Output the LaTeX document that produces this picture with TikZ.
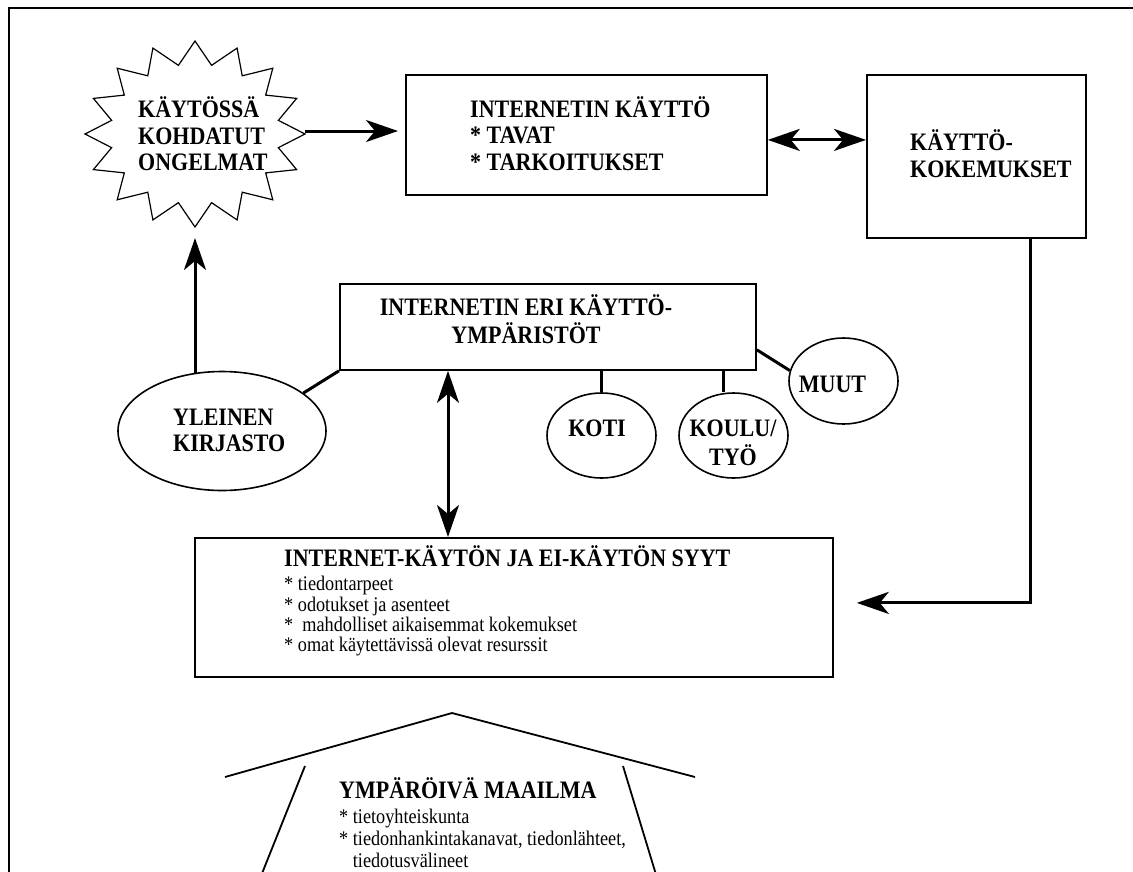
\documentclass[tikz,border=0pt]{standalone}
\usepackage{fontspec}
\setmainfont{Liberation Serif}[FakeStretch=0.877]
\usetikzlibrary{arrows.meta,shapes.geometric}
\newcommand\mytab[2][l]{\begin{tabular}[t]{@{}#1@{}}#2\end{tabular}}
\newcommand\myB{\fontsize{25.1}{26.5}\selectfont\bfseries}
\newcommand\myS{\fontsize{20.8}{20.2}\selectfont}
\newcommand\myH{\fontsize{20.8}{22}\selectfont}
\begin{document}
\begin{tikzpicture}[x=1pt,y=-1pt,
  box/.style={draw, line width=1.8pt, rectangle, inner sep=0pt, anchor=north west},
  ell/.style={draw, line width=1.6pt, ellipse, inner sep=0pt},
  txt/.style={anchor=base west, inner sep=0pt, font=\myB},
  conn/.style={line width=3pt},
  arr/.style={line width=3pt, -{Stealth[length=32pt, width=22pt, inset=9pt]}},
  dbl/.style={line width=3pt, {Stealth[length=32pt, width=22pt, inset=9pt]}-{Stealth[length=32pt, width=22pt, inset=9pt]}},
  house/.style={line width=1.8pt}]
\useasboundingbox (0,0) rectangle (1133,871);
\clip (0,0) rectangle (1133,871);
\fill[white] (0,0) rectangle (1133,871);
% frame
\draw[line width=1.6pt] (9,890) -- (9,8) -- (1145,8);

% starburst
\draw[line width=1.2pt] (305,134)
  \foreach \i in {1,...,31}{ -- ({195+ifthenelse(mod(\i,2)==0,110,85)*cos(\i*11.25)},{134-ifthenelse(mod(\i,2)==0,93,70)*sin(\i*11.25)}) } -- cycle;
\coordinate (burstE) at (305,131);
\coordinate (burstS) at (195,227);
\node[txt] (bt) at (138,117.5) {\mytab{KÄYTÖSSÄ\\KOHDATUT\\ONGELMAT}};

% boxes
\node[box, minimum width=361pt, minimum height=120pt] (b1) at (405,74) {};
\node[box, minimum width=219pt, minimum height=163pt] (kok) at (866,74) {};
\node[box, minimum width=416pt, minimum height=86pt] (env) at (339,283) {};
\node[box, minimum width=638pt, minimum height=139pt] (syyt) at (194,537) {};

\node[txt] (b1t) at (470,117.3) {\mytab{INTERNETIN KÄYTTÖ\\{*} TAVAT\\{*} TARKOITUKSET}};
\node[txt] (kokt) at (910,150.5) {\mytab{KÄYTTÖ-\\KOKEMUKSET}};
\node[txt, anchor=base] (envt) at (526,315) {\mytab[c]{INTERNETIN ERI KÄYTTÖ-\\YMPÄRISTÖT}};
\node[txt] (syytt) at (284,566.5) {INTERNET-KÄYTÖN JA EI-KÄYTÖN SYYT};
\node[txt, font=\myS] (syytl) at (284,590.5) {\mytab{* tiedontarpeet\\{*} odotukset ja asenteet\\{*}\ \ mahdolliset aikaisemmat kokemukset\\{*} omat käytettävissä olevat resurssit}};

% ellipses
\node[ell, minimum width=208pt, minimum height=119pt] (yk) at (222,431) {};
\node[ell, minimum width=109pt, minimum height=85pt] (koti) at (601.5,435.5) {};
\node[ell, minimum width=109pt, minimum height=85pt] (koulu) at (733.5,435.5) {};
\node[ell, minimum width=109pt, minimum height=86pt] (muut) at (843.5,381) {};

\node[txt] (ykt) at (173,425) {\mytab{YLEINEN\\KIRJASTO}};
\node[txt, anchor=base] (kotit) at (597,436) {KOTI};
\node[txt, anchor=base] (koulut) at (733,436.5) {\mytab[c]{KOULU/\\TYÖ}};
\node[txt, anchor=base] (muutt) at (832.5,392.3) {MUUT};

% connectors
\draw[conn] (yk.25) -- (env.south west);
\draw[conn] (koti.north |- env.south) -- (koti.north);
\coordinate (kl) at ([xshift=-10.5pt]koulu.north);
\draw[conn] (kl |- env.south) -- (kl);
\draw[conn] ([yshift=21pt]env.south east) -- (muut.169);

\draw[arr, shorten >=11pt] ([yshift=-3pt]yk.north -| burstS) -- (burstS);
\draw[arr, shorten >=7pt] (burstE) -- (burstE -| b1.west);
\draw[dbl] ([yshift=-5pt]b1.east) -- ([yshift=-5pt]b1.east -| kok.west);
\draw[dbl] ([xshift=109pt]env.south west) -- ([xshift=109pt]env.south west |- syyt.north);
\draw[arr] ([xshift=54.5pt]kok.south) |- ([xshift=23pt,yshift=4.5pt]syyt.east);

% surrounding world (house shape)
\draw[house] (225,777) -- (452,713) -- (695,777);
\draw[house] (305,766) -- (255,891);
\draw[house] (623,766) -- (661,891);
\node[txt] (hut) at (339,798.5) {YMPÄRÖIVÄ MAAILMA};
\node[txt, font=\myH] (hul) at (339,823) {\mytab{* tietoyhteiskunta\\{*} tiedonhankintakanavat, tiedonlähteet,\\\phantom{*}\ tiedotusvälineet}};
\end{tikzpicture}
\end{document}
